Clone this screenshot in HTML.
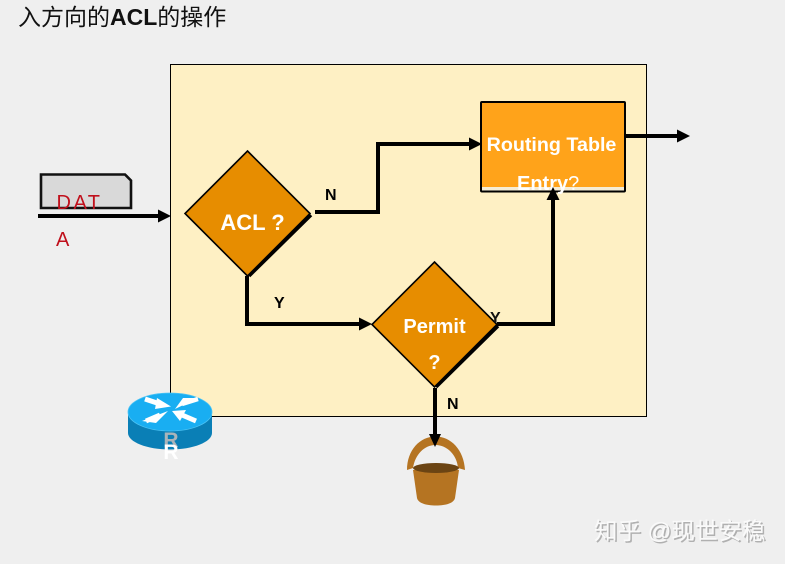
<!DOCTYPE html>
<html lang="zh">
<head>
<meta charset="utf-8">
<title>入方向的ACL的操作</title>
<style>
html,body{margin:0;padding:0;background:#efefef}
svg{display:block}
text{font-family:"Liberation Sans","Noto Sans CJK SC",sans-serif}
</style>
</head>
<body>
<svg xmlns="http://www.w3.org/2000/svg" width="785" height="564" viewBox="0 0 785 564">
<rect width="785" height="564" fill="#efefef"/>
<text x="18" y="25" font-size="23" fill="#111">入方向的<tspan font-weight="bold">ACL</tspan>的操作</text>

<rect x="170.5" y="64.500" width="476" height="352" fill="#fef0c4" stroke="#000" stroke-width="1"/>

<!-- packet -->
<path d="M41 174.500H125L131 180.500V208H41Z" fill="#d9d9d9" stroke="#111" stroke-width="2.600"/>
<text x="56.500" y="209" font-size="20" letter-spacing="2.500" fill="#c0101c">DAT</text>
<text x="56" y="246" font-size="20" fill="#c0101c">A</text>
<path d="M38 216H160" stroke="#000" stroke-width="4" fill="none"/>
<path d="M158 209.500L171 216L158 222.500Z" fill="#000"/>

<!-- diamond 1 -->
<path d="M311 215L249 276" stroke="#000" stroke-width="3.500" fill="none"/>
<path d="M247.500 151L310 213.500L247.500 276L185 213.500Z" fill="#e78d00" stroke="#000" stroke-width="1.600"/>
<text x="252.500" y="230" font-size="22" font-weight="bold" fill="#fff" text-anchor="middle">ACL ?</text>

<!-- diamond 2 -->
<path d="M498 326L436 387" stroke="#000" stroke-width="3.500" fill="none"/>
<path d="M434.500 262L497 324.500L434.500 387L372 324.500Z" fill="#e78d00" stroke="#000" stroke-width="1.600"/>
<text x="434.500" y="333" font-size="20" font-weight="bold" fill="#fff" text-anchor="middle">Permit</text>
<text x="434.500" y="369" font-size="20" font-weight="bold" fill="#fff" text-anchor="middle">?</text>

<!-- routing table -->
<rect x="481" y="102" width="144" height="89.500" rx="1" fill="#ffa31a" stroke="#000" stroke-width="2"/>
<rect x="482" y="187" width="142" height="3.500" fill="#f5ecd5"/>
<text x="551.500" y="151" font-size="19.700" font-weight="bold" fill="#fff" text-anchor="middle">Routing Table</text>
<text x="517" y="190" font-size="20" font-weight="bold" fill="#fff">Entry<tspan font-weight="normal">?</tspan></text>

<!-- connectors -->
<path d="M315 212H378V144H472" stroke="#000" stroke-width="4" fill="none"/>
<path d="M469 137.500L482 144L469 150.500Z" fill="#000"/>
<path d="M247 276V324H361" stroke="#000" stroke-width="4" fill="none"/>
<path d="M359 317.500L372 324L359 330.500Z" fill="#000"/>
<path d="M497 324H553V197" stroke="#000" stroke-width="4" fill="none"/>
<path d="M546.500 200L553 187L559.500 200Z" fill="#000"/>
<path d="M625 136H680" stroke="#000" stroke-width="4" fill="none"/>
<path d="M677 129.500L690 136L677 142.500Z" fill="#000"/>

<text x="325" y="200" font-size="16" font-weight="bold" fill="#000">N</text>
<text x="274" y="308" font-size="16" font-weight="bold" fill="#000">Y</text>
<text x="490" y="323" font-size="16" font-weight="bold" fill="#111">Y</text>
<text x="447" y="409" font-size="16" font-weight="bold" fill="#000">N</text>

<!-- router -->
<path d="M128 412V433C128 442 147 449.500 170 449.500C193 449.500 212 442 212 433V412Z" fill="#0a7fb6"/>
<ellipse cx="170" cy="412" rx="42" ry="19" fill="#19aef2" stroke="#4cc4f5" stroke-width="0.800"/>
<g stroke="#fff" stroke-width="5" fill="none">
<path d="M145 399L160 404"/>
<path d="M198 399L182 404" stroke-width="4.500"/>
<path d="M160 415L146 421"/>
<path d="M182 415L196 421"/>
</g>
<g fill="#fff">
<path d="M157 398L171 406.500L155 409Z"/>
<path d="M175 409L198 398L183 398Z"/>
<path d="M168 411L142 421L156 423Z"/>
<path d="M172 411L186 410L180 421Z"/>
</g>
<text x="171" y="447" font-size="21" font-weight="bold" fill="#aab4ba" text-anchor="middle">R</text>
<text x="171" y="459" font-size="21" font-weight="bold" fill="#fff" text-anchor="middle">R</text>

<!-- bucket -->
<path d="M407 470C407 450 420 436.500 435.500 436.500C451 436.500 464 450 465 470L458 468C457 455 447 445 435.500 445C424 445 415 455 413 468Z" fill="#b57422"/>
<path d="M413 470L417 498C418 503 426 505.500 436 505.500C446 505.500 454 503 455 498L459 470Z" fill="#b57422"/>
<ellipse cx="436" cy="468" rx="23" ry="5" fill="#6b4413"/>
<path d="M435 388V436" stroke="#000" stroke-width="4" fill="none"/>
<path d="M429 434L435 447L441 434Z" fill="#000"/>

<!-- watermark -->
<text x="595.500" y="540.500" font-size="23.500" fill="#b0b0b0">知乎 @现世安稳</text>
<text x="594" y="539" font-size="23.500" fill="#fafafa">知乎 @现世安稳</text>
</svg>
</body>
</html>
